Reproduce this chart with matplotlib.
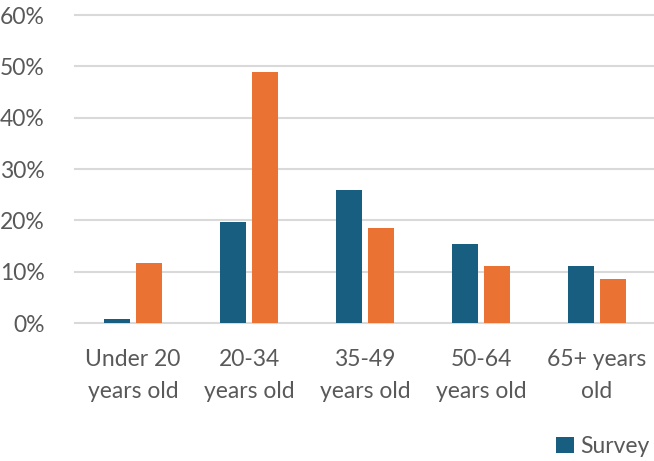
import matplotlib
matplotlib.use("Agg")
import matplotlib.pyplot as plt
from matplotlib.ticker import PercentFormatter
import numpy as np

categories = ["Under 20\nyears old", "20-34\nyears old", "35-49\nyears old",
              "50-64\nyears old", "65+ years\nold"]
survey = [0.7, 19.7, 26.0, 15.3, 11.2]
comparison = [11.7, 48.9, 18.6, 11.2, 8.5]
y_ticks = [0, 10, 20, 30, 40, 50, 60]

BLUE = "#175E80"
ORANGE = "#EA7233"
GRID = "#D9D9D9"
TEXT = "#595959"

plt.rcParams["font.family"] = ["Lato", "DejaVu Sans"]

W, H = 654, 461
fig = plt.figure(figsize=(W / 100, H / 100), dpi=100)
ax = fig.add_axes([75 / W, 138 / H, 580 / W, (323 - 15) / H])

x = np.arange(len(categories))
bw = 0.224
off = 0.142
ax.bar(x - off, survey, bw, color=BLUE, label="Survey", zorder=3)
ax.bar(x + off, comparison, bw, color=ORANGE, zorder=3)

ax.set_xlim(-0.5, 4.5)
ax.set_ylim(0, 60)
ax.set_yticks(y_ticks)
ax.yaxis.set_major_formatter(PercentFormatter(decimals=0))
for v in y_ticks:
    ax.axhline(v, color=GRID, lw=1.5, zorder=1, clip_on=False)

for s in ax.spines.values():
    s.set_visible(False)
ax.tick_params(axis="both", length=0, colors=TEXT, labelsize=16.5)
ax.tick_params(axis="y", pad=22)
ax.tick_params(axis="x", pad=19)
ax.set_xticks(x)
ax.set_xticklabels(categories, linespacing=1.6)

leg = fig.legend(loc="lower right", bbox_to_anchor=(1.018, -0.026), frameon=False,
                 fontsize=16.5, handlelength=0.75, handleheight=0.75,
                 handletextpad=0.3, borderaxespad=0.3)
for t in leg.get_texts():
    t.set_color(TEXT)

fig.savefig("out.png", dpi=100)
